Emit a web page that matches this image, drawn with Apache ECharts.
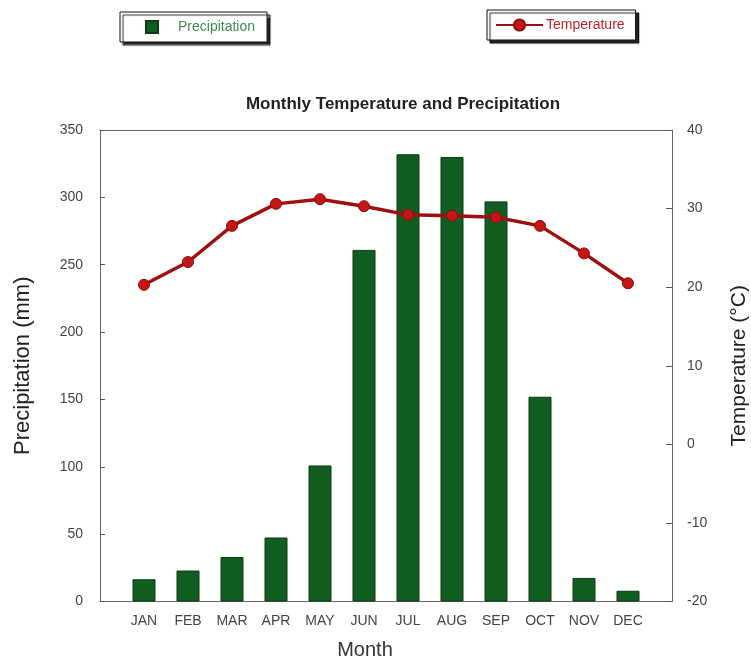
<!DOCTYPE html>
<html><head><meta charset="utf-8">
<script src="https://cdn.jsdelivr.net/npm/echarts@6/dist/echarts.min.js"></script>
<style>html,body{margin:0;padding:0;background:#fff}#c{width:751px;height:662px}</style>
</head><body><div id="c"></div>
<script>
const months = ['JAN','FEB','MAR','APR','MAY','JUN','JUL','AUG','SEP','OCT','NOV','DEC'];
const precipitation = [16.5, 23, 33, 47.5, 101, 261, 332, 330, 297, 152, 17.5, 8];
const temperature = [20.3, 23.2, 27.8, 30.6, 31.2, 30.3, 29.2, 29.1, 28.9, 27.8, 24.3, 20.5];
const precipTicks = {min: 0, max: 350, step: 50};
const tempTicks = {min: -20, max: 40, step: 10};

const FONT = '"Liberation Sans", Arial, Helvetica, sans-serif';
const barData = precipitation.map((v, i) => [i + 1, v]);
const lineData = temperature.map((v, i) => [i + 1, v]);

const chart = echarts.init(document.getElementById('c'), null, {renderer: 'canvas'});
chart.setOption({
  animation: false,
  backgroundColor: '#fff',
  textStyle: {fontFamily: FONT},
  title: {
    text: 'Monthly Temperature and Precipitation',
    left: 398, top: 91, textAlign: 'center',
    textStyle: {fontSize: 17, fontWeight: 'bold', color: '#222', fontFamily: FONT}
  },
  legend: [
    {
      data: [{name: 'Precipitation', icon: 'rect'}], left: 120, top: 12,
      orient: 'horizontal',
      padding: [8, 12, 8, 25],
      itemWidth: 12, itemHeight: 12,
      borderColor: '#111', borderWidth: 1, backgroundColor: '#fff',
      shadowColor: 'rgba(0,0,0,0.85)', shadowBlur: 1, shadowOffsetX: 3, shadowOffsetY: 3,
      textStyle: {color: '#3f8a52', fontSize: 14, fontFamily: FONT, padding: [0,0,0,15]}
    },
    {
      data: ['Temperature'], left: 487, top: 10,
      padding: [8, 11, 8, 8],
      itemWidth: 47, itemHeight: 14,
      borderColor: '#111', borderWidth: 1, backgroundColor: '#fff',
      shadowColor: 'rgba(0,0,0,0.85)', shadowBlur: 1, shadowOffsetX: 3, shadowOffsetY: 3,
      textStyle: {color: '#c81e2a', fontSize: 14, fontFamily: FONT, padding: [0,0,0,-2]}
    }
  ],
  grid: {left: 100, right: 79, top: 130, bottom: 60.5, containLabel: false, outerBoundsMode: 'none'},
  xAxis: [
    {
      type: 'value', min: 0, max: months.length + 1, interval: 1,
      name: 'Month', nameLocation: 'middle', nameGap: 39,
      nameTextStyle: {fontSize: 20, color: '#333', fontFamily: FONT, padding: [0, 42, 0, 0]},
      axisLine: {show: true, onZero: false, lineStyle: {color: '#666', width: 1}},
      axisTick: {show: false},
      splitLine: {show: false},
      axisLabel: {
        color: '#444', fontSize: 14, margin: 13, fontFamily: FONT,
        formatter: v => (v >= 1 && v <= months.length) ? months[v - 1] : ''
      }
    },
    {
      type: 'value', position: 'top', min: 0, max: months.length + 1,
      axisLine: {show: true, onZero: false, lineStyle: {color: '#666', width: 1}},
      axisTick: {show: false}, axisLabel: {show: false}, splitLine: {show: false}
    }
  ],
  yAxis: [
    {
      type: 'value', min: precipTicks.min, max: precipTicks.max, interval: precipTicks.step,
      name: 'Precipitation (mm)', nameLocation: 'middle', nameGap: 66,
      nameTextStyle: {fontSize: 22, color: '#222', fontFamily: FONT},
      axisLine: {show: true, onZero: false, lineStyle: {color: '#666', width: 1}},
      axisTick: {show: true, inside: true, length: 5, lineStyle: {color: '#555'}},
      splitLine: {show: false},
      axisLabel: {color: '#444', fontSize: 14, margin: 17, fontFamily: FONT}
    },
    {
      type: 'value', position: 'right', min: tempTicks.min, max: tempTicks.max, interval: tempTicks.step,
      name: 'Temperature (°C)', nameLocation: 'middle', nameGap: 57,
      nameTextStyle: {fontSize: 21, color: '#222', fontFamily: FONT},
      axisLine: {show: true, onZero: false, lineStyle: {color: '#666', width: 1}},
      axisTick: {show: true, inside: true, length: 6, lineStyle: {color: '#555'}},
      splitLine: {show: false},
      axisLabel: {color: '#444', fontSize: 14, margin: 15, fontFamily: FONT}
    }
  ],
  series: [
    {
      name: 'Precipitation', type: 'bar', xAxisIndex: 0, yAxisIndex: 0,
      data: barData, barWidth: 23,
      itemStyle: {color: '#125e22', borderColor: '#0b3a14', borderWidth: 1}
    },
    {
      name: 'Temperature', type: 'line', xAxisIndex: 0, yAxisIndex: 1,
      data: lineData, symbol: 'circle', symbolSize: 11,
      lineStyle: {color: '#9e1010', width: 3.5},
      itemStyle: {color: '#c41616', borderColor: '#8e0c0c', borderWidth: 1}
    }
  ]
});
</script></body></html>
